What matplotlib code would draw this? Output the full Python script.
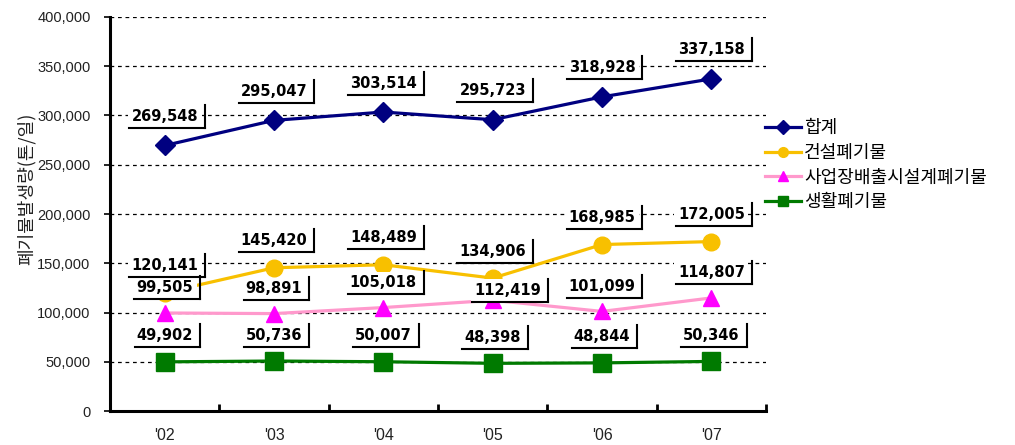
import matplotlib
matplotlib.use("Agg")
import matplotlib.pyplot as plt
from matplotlib.lines import Line2D
from matplotlib.transforms import IdentityTransform
from matplotlib.ticker import FuncFormatter

plt.rcParams['font.family'] = ['Noto Sans CJK KR', 'DejaVu Sans']

years = ["'02", "'03", "'04", "'05", "'06", "'07"]
total = [269548, 295047, 303514, 295723, 318928, 337158]
construction = [120141, 145420, 148489, 134906, 168985, 172005]
facility = [99505, 98891, 105018, 112419, 101099, 114807]
household = [49902, 50736, 50007, 48398, 48844, 50346]
series_names = ["합계", "건설폐기물", "사업장배출시설계폐기물", "생활폐기물"]
y_label = "폐기물발생량(톤/일)"

fig = plt.figure(figsize=(10.15, 4.45), dpi=100)
ax = fig.add_axes([0.1084, 0.0764, 0.6463, 0.8854])

x = list(range(1, len(years) + 1))
styles = [
    dict(color='#000080', marker='D', mfc='#000080', mec='#000080', ms=10),
    dict(color='#F8C000', marker='o', mfc='#F8C000', mec='#F8C000', ms=12),
    dict(color='#FF99CC', marker='^', mfc='#FF00FF', mec='#FF00FF', ms=12),
    dict(color='#007A00', marker='s', mfc='#007A00', mec='#007A00', ms=13),
]
data = [total, construction, facility, household]
# label offsets in pixels (dx, dy) relative to point
offsets = [
    [(0, 29)] * 6,
    [(0, 27)] * 6,
    [(0, 25), (0, 25), (0, 25), (15, 10), (0, 25), (0, 25)],
    [(0, 26)] * 6,
]

handles = []
for vals, st, name in zip(data, styles, series_names):
    h, = ax.plot(x, vals, lw=2.3, zorder=3, label=name, **st)
    handles.append(h)

ax.set_xlim(0.5, 6.5)
ax.set_ylim(0, 400000)
ax.set_yticks(range(0, 400001, 50000))
ax.yaxis.set_major_formatter(FuncFormatter(lambda v, p: f"{int(v):,}"))
ax.set_xticks(x)
ax.set_xticklabels(years)
ax.set_xticks([1.5, 2.5, 3.5, 4.5, 5.5, 6.5], minor=True)
ax.tick_params(axis='x', which='major', length=0, pad=12, labelsize=11.5, labelcolor='#222222')
ax.tick_params(axis='x', which='minor', direction='in', length=5, width=2)
ax.tick_params(axis='y', which='major', direction='out', length=4, width=1.2, pad=10,
               labelsize=10.5, labelcolor='#222222')
for lab in ax.get_xticklabels() + ax.get_yticklabels():
    lab.set_family(['Liberation Sans', 'DejaVu Sans'])

ax.grid(axis='y', color='black', linestyle=(0, (3, 3)), lw=0.9, zorder=1)
ax.set_axisbelow(True)
for s in ['top', 'right']:
    ax.spines[s].set_visible(False)
for s in ['left', 'bottom']:
    ax.spines[s].set_linewidth(2.2)

fig.text(0.026, 0.575, y_label, rotation=90, ha='center', va='center', fontsize=13, color='#222222')

texts = []
for vals, offs in zip(data, offsets):
    for xi, v, (dx, dy) in zip(x, vals, offs):
        t = ax.annotate(f"{v:,}", (xi, v), xytext=(dx, dy), textcoords='offset pixels',
                        ha='center', va='center', fontsize=10.5, fontweight='bold',
                        family=['DejaVu Sans'], color='black', zorder=5,
                        bbox=dict(facecolor='white', edgecolor='none', pad=2.5))
        texts.append(t)

leg = ax.legend(handles=handles, loc='upper left', bbox_to_anchor=(0.745, 0.752),
                bbox_transform=fig.transFigure, frameon=False, fontsize=13,
                handlelength=2.0, handletextpad=0.15, labelspacing=0.36, borderpad=0)
for lh in leg.legend_handles:
    lh.set_markersize(7)

fig.canvas.draw()
r = fig.canvas.get_renderer()
for t in texts:
    bb = t.get_window_extent(r)
    left = bb.x0 - 2
    right = bb.x1 + 7
    bottom = bb.y0 - 4
    top = bb.y1 + 4
    fig.add_artist(Line2D([left, right], [bottom, bottom], transform=IdentityTransform(),
                          color='black', lw=1.5, zorder=6))
    fig.add_artist(Line2D([right, right], [bottom, top], transform=IdentityTransform(),
                          color='black', lw=1.5, zorder=6))

fig.savefig("out.png", dpi=100)
